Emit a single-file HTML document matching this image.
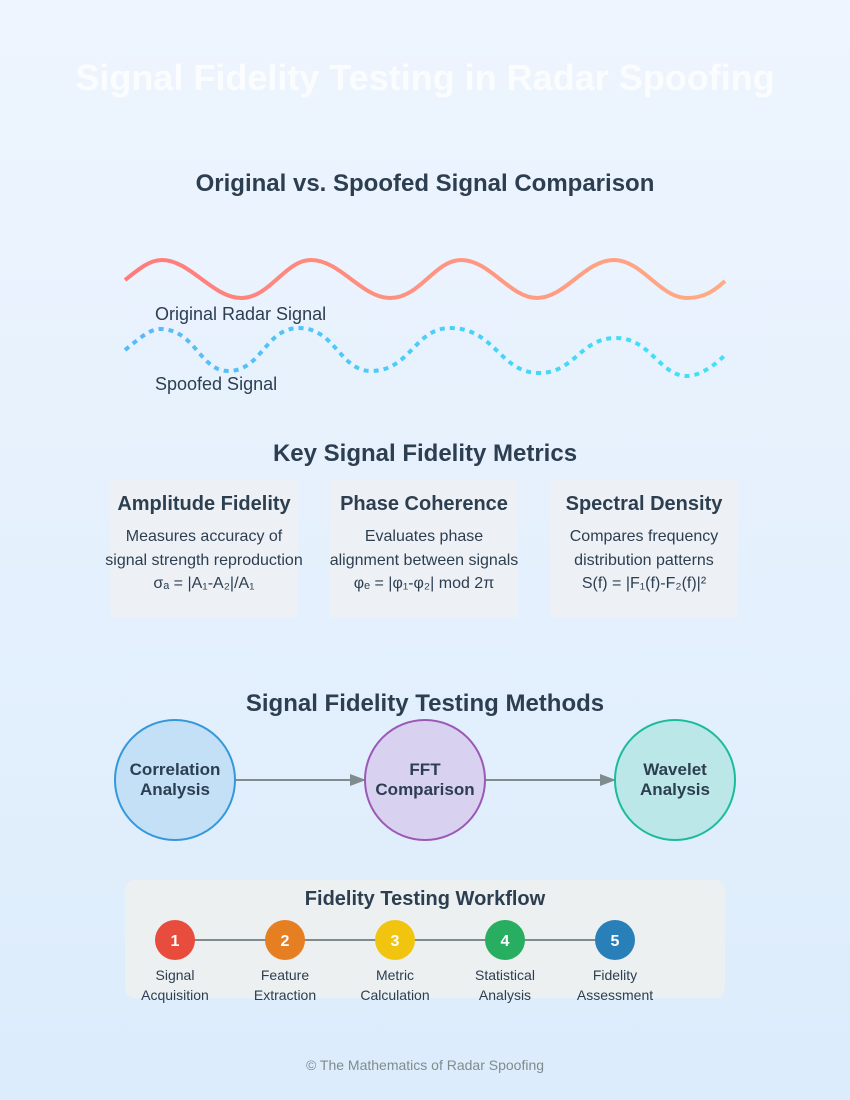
<!DOCTYPE html>
<html><head><meta charset="utf-8"><style>
html,body{margin:0;padding:0;width:850px;height:1100px;overflow:hidden}
svg{display:block;font-family:"Liberation Sans",Arial,sans-serif}
</style></head><body>
<svg width="850" height="1100" viewBox="0 0 850 1100" xmlns="http://www.w3.org/2000/svg">
<defs>
<linearGradient id="bg" x1="0" y1="0" x2="0" y2="1"><stop offset="0" stop-color="#eef5fe"/><stop offset="1" stop-color="#dcecfc"/></linearGradient>
<linearGradient id="g1" x1="0" y1="0" x2="1" y2="0"><stop offset="0" stop-color="#ff7b7b"/><stop offset="1" stop-color="#ffab85"/></linearGradient>
<linearGradient id="g2" x1="0" y1="0" x2="1" y2="0"><stop offset="0" stop-color="#5ab8f8"/><stop offset="1" stop-color="#3fe3f5"/></linearGradient>
<marker id="ar" markerWidth="16" markerHeight="12" refX="15" refY="6" orient="auto" markerUnits="userSpaceOnUse"><path d="M0,0 L16,6 L0,12 Z" fill="#7f8c8d"/></marker>
</defs>
<rect width="850" height="1100" fill="url(#bg)"/>
<text x="425" y="90" text-anchor="middle" font-size="36" font-weight="bold" fill="#ffffff" opacity="0.8">Signal Fidelity Testing in Radar Spoofing</text>

<text x="425" y="191" text-anchor="middle" font-size="24" font-weight="bold" fill="#2c3e50">Original vs. Spoofed Signal Comparison</text>
<path d="M125,280 C140,268 150,260 162,260 C190,260 213,298 241,298 C270,298 285,260 311,260 C340,260 362,298 390,298 C420,298 435,260 461,260 C490,260 510,298 537,298 C565,298 585,260 614,260 C642,260 660,298 687,298 C705,298 715,290 725,281" fill="none" stroke="url(#g1)" stroke-width="4"/>
<text x="155" y="320" font-size="18" fill="#2c3e50">Original Radar Signal</text>
<path d="M125,350 C140,338 150,329 160,329 C195,329 200,371 228,371 C262,371 265,328 299,328 C335,328 340,371 371,371 C410,371 415,328 450,328 C495,328 500,373 539,373 C575,373 580,338 616,338 C650,338 660,376 687,376 C700,376 715,365 725,355" fill="none" stroke="url(#g2)" stroke-width="4" stroke-dasharray="5,5"/>
<text x="155" y="390" font-size="18" fill="#2c3e50">Spoofed Signal</text>

<text x="425" y="461" text-anchor="middle" font-size="24" font-weight="bold" fill="#2c3e50">Key Signal Fidelity Metrics</text>
<g font-size="16" fill="#2c3e50" text-anchor="middle">
<rect x="110" y="480" width="188" height="138" rx="5" fill="#edf1f6"/>
<text x="204" y="510" font-size="20" font-weight="bold">Amplitude Fidelity</text>
<text x="204" y="541">Measures accuracy of</text>
<text x="204" y="565">signal strength reproduction</text>
<text x="204" y="588">σₐ = |A₁-A₂|/A₁</text>
<rect x="330" y="480" width="188" height="138" rx="5" fill="#edf1f6"/>
<text x="424" y="510" font-size="20" font-weight="bold">Phase Coherence</text>
<text x="424" y="541">Evaluates phase</text>
<text x="424" y="565">alignment between signals</text>
<text x="424" y="588">φₑ = |φ₁-φ₂| mod 2π</text>
<rect x="550" y="480" width="188" height="138" rx="5" fill="#edf1f6"/>
<text x="644" y="510" font-size="20" font-weight="bold">Spectral Density</text>
<text x="644" y="541">Compares frequency</text>
<text x="644" y="565">distribution patterns</text>
<text x="644" y="588">S(f) = |F₁(f)-F₂(f)|²</text>
</g>

<text x="425" y="711" text-anchor="middle" font-size="24" font-weight="bold" fill="#2c3e50">Signal Fidelity Testing Methods</text>
<line x1="235" y1="780" x2="365" y2="780" stroke="#7f8c8d" stroke-width="2" marker-end="url(#ar)"/>
<line x1="485" y1="780" x2="615" y2="780" stroke="#7f8c8d" stroke-width="2" marker-end="url(#ar)"/>
<circle cx="175" cy="780" r="60" fill="#c3e0f6" stroke="#3498db" stroke-width="2"/>
<circle cx="425" cy="780" r="60" fill="#d8d2f0" stroke="#9b59b6" stroke-width="2"/>
<circle cx="675" cy="780" r="60" fill="#bce7e8" stroke="#1abc9c" stroke-width="2"/>
<g font-size="17" font-weight="bold" fill="#2c3e50" text-anchor="middle">
<text x="175" y="775">Correlation</text><text x="175" y="795">Analysis</text>
<text x="425" y="775">FFT</text><text x="425" y="795">Comparison</text>
<text x="675" y="775">Wavelet</text><text x="675" y="795">Analysis</text>
</g>

<rect x="125" y="880" width="600" height="118" rx="10" fill="#ecf0f1"/>
<text x="425" y="905" text-anchor="middle" font-size="20" font-weight="bold" fill="#2c3e50">Fidelity Testing Workflow</text>
<line x1="175" y1="940" x2="615" y2="940" stroke="#7f8c8d" stroke-width="2"/>
<g font-size="16" font-weight="bold" fill="#fff" text-anchor="middle">
<circle cx="175" cy="940" r="20" fill="#e74c3c"/><text x="175" y="946">1</text>
<circle cx="285" cy="940" r="20" fill="#e67e22"/><text x="285" y="946">2</text>
<circle cx="395" cy="940" r="20" fill="#f1c40f"/><text x="395" y="946">3</text>
<circle cx="505" cy="940" r="20" fill="#27ae60"/><text x="505" y="946">4</text>
<circle cx="615" cy="940" r="20" fill="#2980b9"/><text x="615" y="946">5</text>
</g>
<g font-size="14" fill="#2c3e50" text-anchor="middle">
<text x="175" y="980">Signal</text><text x="175" y="1000">Acquisition</text>
<text x="285" y="980">Feature</text><text x="285" y="1000">Extraction</text>
<text x="395" y="980">Metric</text><text x="395" y="1000">Calculation</text>
<text x="505" y="980">Statistical</text><text x="505" y="1000">Analysis</text>
<text x="615" y="980">Fidelity</text><text x="615" y="1000">Assessment</text>
</g>
<text x="425" y="1070" text-anchor="middle" font-size="14" fill="#7f8c8d">© The Mathematics of Radar Spoofing</text>
</svg>
</body></html>
